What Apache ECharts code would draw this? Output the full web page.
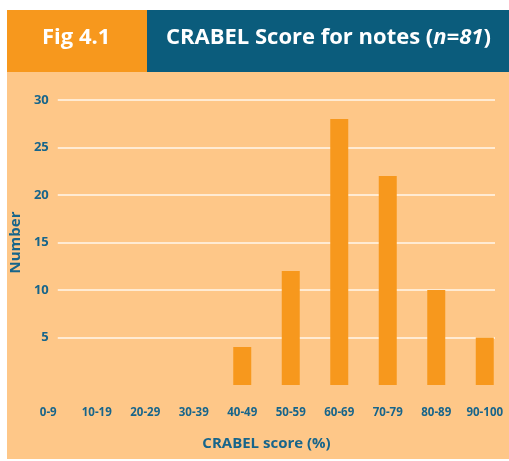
<!DOCTYPE html>
<html>
<head>
<meta charset="utf-8">
<script src="https://cdn.jsdelivr.net/npm/echarts@6/dist/echarts.min.js"></script>
<style>
  html, body { margin: 0; padding: 0; background: #fff; }
  #crabelChart { width: 509px; height: 461px; }
</style>
</head>
<body>
<div id="crabelChart"></div>
<script>
// chart data
const categories = ['0-9', '10-19', '20-29', '30-39', '40-49', '50-59', '60-69', '70-79', '80-89', '90-100']
const counts = [null, null, null, null, 4, 12, 28, 22, 10, 5]
const yTicks = { min: 0, max: 30, step: 5 }

const textBlue = '#17658b'
const font = '"Open Sans", "Noto Sans", sans-serif'

const chart = echarts.init(document.getElementById('crabelChart'))

const option = {
  animation: false,
  graphic: [
    // peach panel
    { type: 'rect', shape: { x: 7, y: 72, width: 502, height: 387 }, style: { fill: '#fec788' }, z: -10 },
    // header boxes
    { type: 'rect', shape: { x: 7, y: 10, width: 140, height: 62 }, style: { fill: '#f7981d' }, z: -10 },
    { type: 'rect', shape: { x: 147, y: 10, width: 362, height: 62 }, style: { fill: '#0b5c7c' }, z: -10 },
    {
      type: 'text', left: 42, top: 27,
      style: { text: 'Fig 4.1', fill: '#fff', font: 'bold 22px ' + font }
    },
    {
      type: 'text', left: 166, top: 27,
      style: {
        text: '{a|CRABEL Score for notes (}{b|n=81}{a|)}',
        rich: {
          a: { fill: '#fff', fontFamily: font, fontWeight: 'bold', fontSize: 22 },
          b: { fill: '#fff', fontFamily: font, fontWeight: 'bold', fontStyle: 'italic', fontSize: 22 }
        }
      }
    }
  ],
  grid: [
    // gridlines + y labels
    { left: 53, right: 14, top: 100, bottom: 76 },
    // bars
    { left: 24, right: 0, top: 100, bottom: 76 }
  ],
  xAxis: [
    { gridIndex: 0, type: 'category', data: categories, show: false },
    {
      gridIndex: 1,
      type: 'category',
      data: categories,
      axisLine: { show: false },
      axisTick: { show: false },
      axisLabel: { interval: 0, color: textBlue, fontFamily: font, fontWeight: 'bold', fontSize: 11.5, margin: 22 },
      name: 'CRABEL score (%)',
      nameLocation: 'middle',
      nameGap: 51,
      nameTextStyle: { color: textBlue, fontFamily: font, fontWeight: 'bold', fontSize: 15 }
    }
  ],
  yAxis: [
    {
      gridIndex: 0,
      type: 'value',
      min: yTicks.min,
      max: yTicks.max,
      interval: yTicks.step,
      axisLine: { show: false },
      axisTick: { show: false },
      axisLabel: {
        color: textBlue, fontFamily: font, fontWeight: 'bold', fontSize: 13, margin: 9,
        formatter: v => (v === 0 ? '' : v)
      },
      splitLine: { showMinLine: false, lineStyle: { color: 'rgba(255,255,255,0.85)', width: 1.5 } },
      name: 'Number',
      nameLocation: 'middle',
      nameRotate: 90,
      nameGap: 24,
      nameTextStyle: { color: textBlue, fontFamily: font, fontWeight: 'bold', fontSize: 15 }
    },
    { gridIndex: 1, type: 'value', min: yTicks.min, max: yTicks.max, show: false }
  ],
  series: [{
    type: 'bar',
    xAxisIndex: 1,
    yAxisIndex: 1,
    data: counts,
    barWidth: 18,
    itemStyle: { color: '#f7981d' }
  }]
}

chart.setOption(option)
</script>
</body>
</html>
